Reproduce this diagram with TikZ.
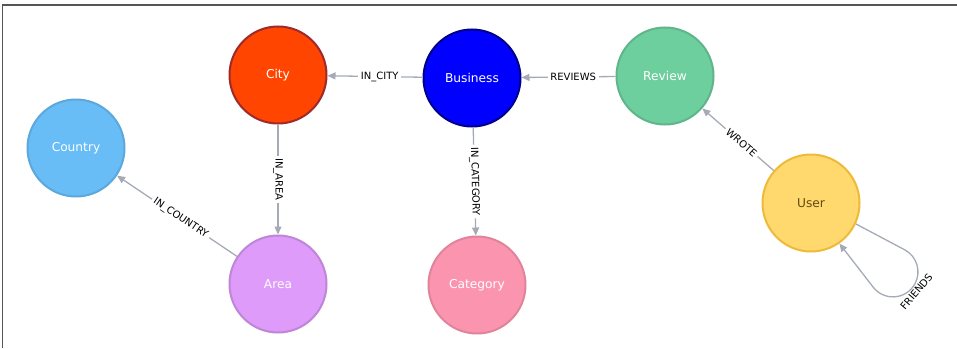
\documentclass[tikz,border=0pt]{standalone}
\usepackage{fontspec}
\setmainfont{DejaVu Sans}
\usetikzlibrary{arrows.meta}
\definecolor{edgec}{HTML}{A5ABB6}
\definecolor{framec}{HTML}{555555}
\definecolor{cityf}{HTML}{FF4500}\definecolor{cityb}{HTML}{9E2A2A}
\definecolor{busf}{HTML}{0000FF}\definecolor{busb}{HTML}{00008B}
\definecolor{revf}{HTML}{6DCE9E}\definecolor{revb}{HTML}{60B58B}
\definecolor{couf}{HTML}{68BDF6}\definecolor{coub}{HTML}{5CA8DB}
\definecolor{aref}{HTML}{DE9BF9}\definecolor{areb}{HTML}{BF85D6}
\definecolor{catf}{HTML}{FB95AF}\definecolor{catb}{HTML}{E0849B}
\definecolor{usef}{HTML}{FFD86E}\definecolor{useb}{HTML}{EDBA39}
\definecolor{uset}{HTML}{604A0E}
\begin{document}
\begin{tikzpicture}[x=1pt,y=-1pt,
  nd/.style={circle, minimum size=97pt, inner sep=0pt, line width=2pt,
    font=\fontsize{12.2}{14}\selectfont, text=white},
  rel/.style={draw=edgec, line width=1.3pt, -{Triangle[length=8pt,width=7pt]}},
  lblfont/.style={font=\fontsize{10}{12}\selectfont, text=black},
  lbl/.style={lblfont, fill=white, inner sep=2.5pt},
  frame/.style={draw=framec, line width=1.3pt}]
\useasboundingbox (0,0) rectangle (957,348);
\draw[frame] (2.5,348) -- (2.5,5) -- (957,5);
\node[nd, fill=cityf, draw=cityb] (City) at (278,75) {City};
\node[nd, fill=busf, draw=busb] (Business) at (472,78) {Business};
\node[nd, fill=revf, draw=revb] (Review) at (665,76) {Review};
\node[nd, fill=couf, draw=coub] (Country) at (76,148) {Country};
\node[nd, fill=aref, draw=areb] (Area) at (278,284) {Area};
\node[nd, fill=catf, draw=catb] (Category) at (477,285) {Category};
\node[nd, fill=usef, draw=useb, text=uset] (User) at (811,203) {User};
\draw[rel] (Business) -- node[lbl, pos=0.45]{IN\_CITY} (City);
\draw[rel] (Review) -- node[lbl, pos=0.45]{REVIEWS} (Business);
\draw[rel] (City) -- node[lbl, rotate=-90]{IN\_AREA} (Area);
\draw[rel] (Business) -- node[lbl, rotate=-88.6]{IN\_CATEGORY} (Category);
\draw[rel] (Area) -- node[lbl, pos=0.47, rotate=-34]{IN\_COUNTRY} (Country);
\draw[rel] (User) -- node[lbl, pos=0.45, rotate=-41]{WROTE} (Review);
\coordinate (loopA) at (904.7,249.8);
\draw[rel] (User.-25) -- (loopA) arc[start angle=62, end angle=-142, radius=25pt] -- (User.-55);
\node[lblfont, anchor=north, rotate=50, inner sep=1.5pt] (friendsLbl) at (912.2,288.1) {FRIENDS};
\end{tikzpicture}
\end{document}
